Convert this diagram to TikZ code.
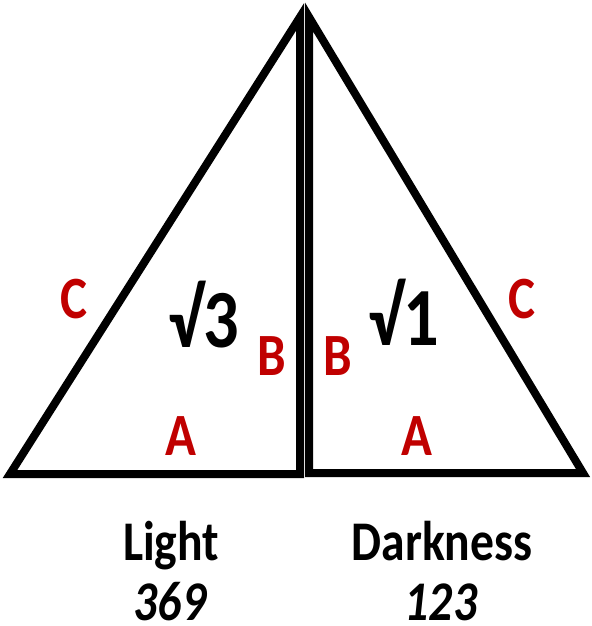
\documentclass[tikz,border=0pt]{standalone}
\usepackage{fontspec}
\setmainfont{Carlito}
\usepackage{tikz}

\definecolor{labelred}{RGB}{192,0,0}
\newcommand{\squeeze}[1]{\scalebox{0.85}[1]{#1}}

\begin{document}
\begin{tikzpicture}[x=0.75pt,y=-0.75pt,
  side/.style={line width=6pt,line join=miter},
  sidename/.style={text=labelred,font=\fontsize{45}{45}\selectfont\bfseries,inner sep=0pt},
  rootval/.style={font=\fontsize{62}{62}\selectfont\bfseries,inner sep=0pt},
  caption/.style={font=\fontsize{42}{42}\selectfont\bfseries,anchor=base,inner sep=0pt}]

  \useasboundingbox (0,0) rectangle (592,626);

  \coordinate (lbl) at (10,474);
  \coordinate (lbr) at (300,474);
  \coordinate (ltop) at (300,17);

  \coordinate (rbl) at (309,473);
  \coordinate (rbr) at (583,473);
  \coordinate (rtop) at (309,17);

  \draw[side] (lbl) -- (lbr) -- (ltop) -- cycle; % light
  \draw[side] (rbl) -- (rbr) -- (rtop) -- cycle; % darkness

  \node[sidename] (lc) at (74,299) {\squeeze{C}};
  \node[sidename] (lb) at (272,356) {\squeeze{B}};
  \node[sidename] (la) at (181,436) {\squeeze{A}};
  \node[rootval] (lroot) at (204,315) {\squeeze{√3}};

  \node[sidename] (rc) at (522,299) {\squeeze{C}};
  \node[sidename] (rb) at (338,356) {\squeeze{B}};
  \node[sidename] (ra) at (417,436) {\squeeze{A}};
  \node[rootval] (rroot) at (404,312) {\squeeze{√1}};

  \node[caption] (light) at (171,560) {\squeeze{Light}};
  \node[caption] (dark) at (442,560) {\squeeze{Darkness}};
  \node[caption] (lnum) at (170,620) {\squeeze{\itshape 369}};
  \node[caption] (rnum) at (441,620) {\squeeze{\itshape 123}};
\end{tikzpicture}
\end{document}
